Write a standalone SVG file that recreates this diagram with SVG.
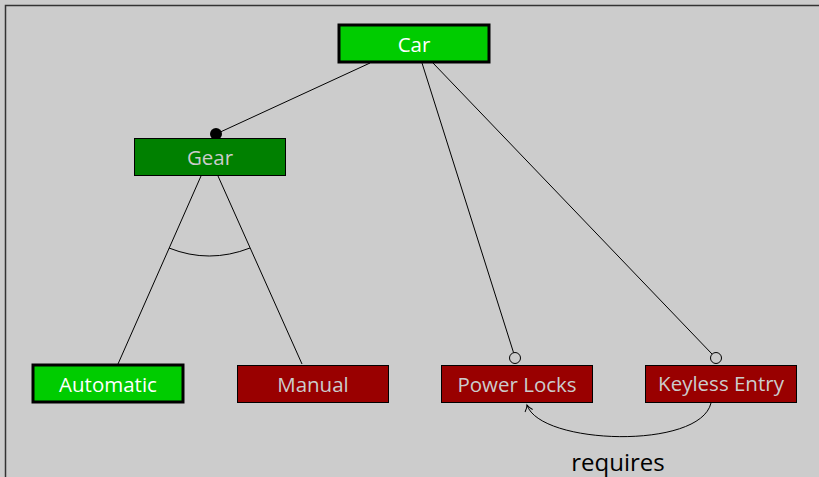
<svg xmlns="http://www.w3.org/2000/svg" width="819" height="477" viewBox="0 0 819 477">
<defs>
<style>
.lbl{font-family:"Open Sans","Liberation Sans",sans-serif;font-size:20.5px;text-anchor:middle;dominant-baseline:central}
.sel rect{fill:#00cc00;stroke:#000;stroke-width:3}
.sel text{fill:#ffffff}
.grp rect{fill:#008000;stroke:#000;stroke-width:1}
.grp text{fill:#cccccc}
.off rect{fill:#990000;stroke:#000;stroke-width:1}
.off text{fill:#cccccc}
.edge{fill:none;stroke:#000;stroke-width:1}
</style>
<marker id="arr" markerWidth="10" markerHeight="10" refX="8" refY="5" orient="auto" markerUnits="userSpaceOnUse">
<path d="M2,1 Q5,4 8,5 Q5,6 2,9" fill="none" stroke="#000" stroke-width="1"/>
</marker>
</defs>
<rect width="819" height="477" fill="#cccccc"/>
<rect x="5.5" y="5.5" width="900" height="900" fill="none" stroke="#333" stroke-width="1.5"/>
<g id="connectors">
<line class="edge" x1="370" y1="63" x2="216" y2="134"/>
<circle cx="216" cy="134" r="6" fill="#000"/>
<line class="edge" x1="201" y1="176" x2="118" y2="364"/>
<line class="edge" x1="218" y1="176" x2="302" y2="364"/>
<path class="edge" d="M169,248 Q209,264 250,248"/>
<line class="edge" x1="422" y1="63" x2="513.5" y2="352.5"/>
<circle cx="515" cy="358" r="5.5" fill="none" stroke="#000" stroke-width="1"/>
<line class="edge" x1="433" y1="63" x2="712" y2="354"/>
<circle cx="716" cy="358" r="5.5" fill="none" stroke="#000" stroke-width="1"/>
<path class="edge" d="M711,403 C700,450 540,445 527,405" marker-end="url(#arr)"/>
<text x="618" y="461" style="font-family:'Open Sans','Liberation Sans',sans-serif;font-size:24px;text-anchor:middle;dominant-baseline:central" fill="#000">requires</text>
</g>
<g id="car" class="sel"><rect x="339" y="25" width="150" height="37"/><text class="lbl" x="414" y="43.5">Car</text></g>
<g id="gear" class="grp"><rect x="134.5" y="138.5" width="151" height="37"/><text class="lbl" x="210" y="157">Gear</text></g>
<g id="automatic" class="sel"><rect x="33" y="365" width="150" height="37"/><text class="lbl" x="108" y="383.5">Automatic</text></g>
<g id="manual" class="off"><rect x="237.5" y="365.5" width="151" height="37"/><text class="lbl" x="313" y="384">Manual</text></g>
<g id="powerlocks" class="off"><rect x="441.5" y="365.5" width="151" height="37"/><text class="lbl" x="517" y="384">Power Locks</text></g>
<g id="keyless" class="off"><rect x="645.5" y="365.5" width="151" height="37"/><text class="lbl" x="721" y="383">Keyless Entry</text></g>
</svg>
